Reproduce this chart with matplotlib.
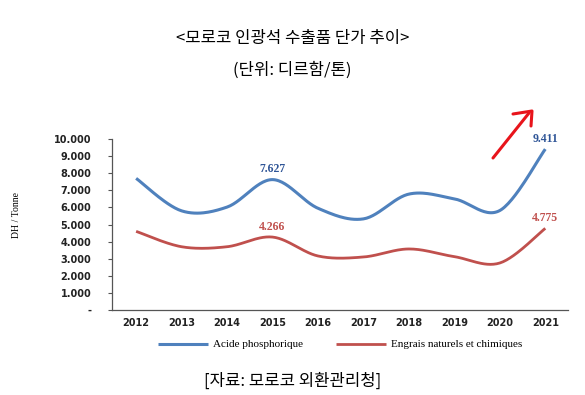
import numpy as np
import matplotlib.pyplot as plt
from matplotlib.ticker import FixedLocator

years = ["2012", "2013", "2014", "2015", "2016", "2017", "2018", "2019", "2020", "2021"]
acide = [7700, 5800, 6020, 7627, 5950, 5330, 6780, 6500, 5820, 9411]
engrais = [4600, 3700, 3700, 4266, 3160, 3100, 3570, 3120, 2750, 4775]
yticks = [0, 1000, 2000, 3000, 4000, 5000, 6000, 7000, 8000, 9000, 10000]
ytick_labels = ["-", "1.000", "2.000", "3.000", "4.000", "5.000",
                "6.000", "7.000", "8.000", "9.000", "10.000"]

BLUE = "#4F81BD"
RED = "#C0504D"


def smooth(x, y, n=30):
    # Excel-like smoothed line (Catmull-Rom through the data points)
    x = np.asarray(x, float)
    y = np.asarray(y, float)
    px = np.concatenate([[x[0]], x, [x[-1]]])
    py = np.concatenate([[y[0]], y, [y[-1]]])
    xs, ys = [], []
    t = np.linspace(0, 1, n)
    for i in range(1, len(px) - 2):
        p0, p1, p2, p3 = [np.array([px[j], py[j]]) for j in range(i - 1, i + 3)]
        c1 = p1 + (p2 - p0) / 6
        c2 = p2 - (p3 - p1) / 6
        pts = ((1 - t) ** 3)[:, None] * p1 + (3 * (1 - t) ** 2 * t)[:, None] * c1 \
            + (3 * (1 - t) * t ** 2)[:, None] * c2 + (t ** 3)[:, None] * p2
        xs.extend(pts[:, 0])
        ys.extend(pts[:, 1])
    return np.array(xs), np.array(ys)


fig = plt.figure(figsize=(5.85, 3.95), dpi=100)
ax = fig.add_axes([0.1915, 0.2152, 0.7795, 0.4328])

x = np.arange(len(years))
sx, sy = smooth(x, acide)
ax.plot(sx, sy, color=BLUE, lw=2.2, label="Acide phosphorique", solid_capstyle="butt")
sx, sy = smooth(x, engrais)
ax.plot(sx, sy, color=RED, lw=2.0, label="Engrais naturels et chimiques", solid_capstyle="butt")

# data labels
lab_font = dict(family="Liberation Serif", fontsize=8.5, fontweight="bold", ha="center")
ax.text(3, acide[3] + 420, "7.627", color="#2F5597", **lab_font)
ax.text(9, acide[9] + 420, "9.411", color="#2F5597", **lab_font)
ax.text(3, engrais[3] + 420, "4.266", color=RED, **lab_font)
ax.text(9, engrais[9] + 420, "4.775", color=RED, **lab_font)

ax.set_xlim(-0.53, 9.5)
ax.set_ylim(0, 10000)
ax.set_xticks(x)
ax.set_xticklabels(years, fontsize=7, fontweight="bold", color="#222222")
ax.yaxis.set_major_locator(FixedLocator(yticks))
ax.set_yticklabels(ytick_labels, fontsize=7, fontweight="bold", color="#222222")
ax.tick_params(axis="x", length=0, pad=6)
ax.tick_params(axis="y", length=3, width=0.8, pad=12, color="#555555")
for s in ["top", "right"]:
    ax.spines[s].set_visible(False)
ax.spines["left"].set_color("#555555")
ax.spines["bottom"].set_color("#555555")
ax.spines["left"].set_linewidth(0.9)
ax.spines["bottom"].set_linewidth(0.9)

ax.set_ylabel("DH / Tonne", family="Liberation Serif", fontsize=7)
ax.yaxis.set_label_coords(-0.2, 0.555)

ax.legend(loc="upper center", bbox_to_anchor=(0.5, -0.115), ncol=2, frameon=False,
          prop=dict(family="Liberation Serif", size=8), handlelength=4.5,
          columnspacing=3, handletextpad=0.4)

kr = ["Noto Sans CJK KR", "DejaVu Sans"]
fig.text(0.5, 1 - 38 / 395, "<모로코 인광석 수출품 단가 추이>", ha="center", va="center",
         family=kr, fontsize=12)
fig.text(0.5, 1 - 70 / 395, "(단위: 디르함/톤)", ha="center", va="center",
         family=kr, fontsize=12)
fig.text(0.5, 1 - 381 / 395, "[자료: 모로코 외환관리청]", ha="center", va="center",
         family=kr, fontsize=12)

# red hand-drawn arrow
fig.add_artist(plt.Line2D([493 / 585, 529 / 585], [1 - 158 / 395, 1 - 113 / 395],
                          color="#E8141B", lw=2.2, solid_capstyle="round"))
fig.add_artist(plt.Line2D([513 / 585, 532 / 585, 531 / 585],
                          [1 - 114 / 395, 1 - 111 / 395, 1 - 126 / 395],
                          color="#E8141B", lw=2.2, solid_capstyle="round",
                          solid_joinstyle="round"))

fig.savefig("out.png", dpi=100)
